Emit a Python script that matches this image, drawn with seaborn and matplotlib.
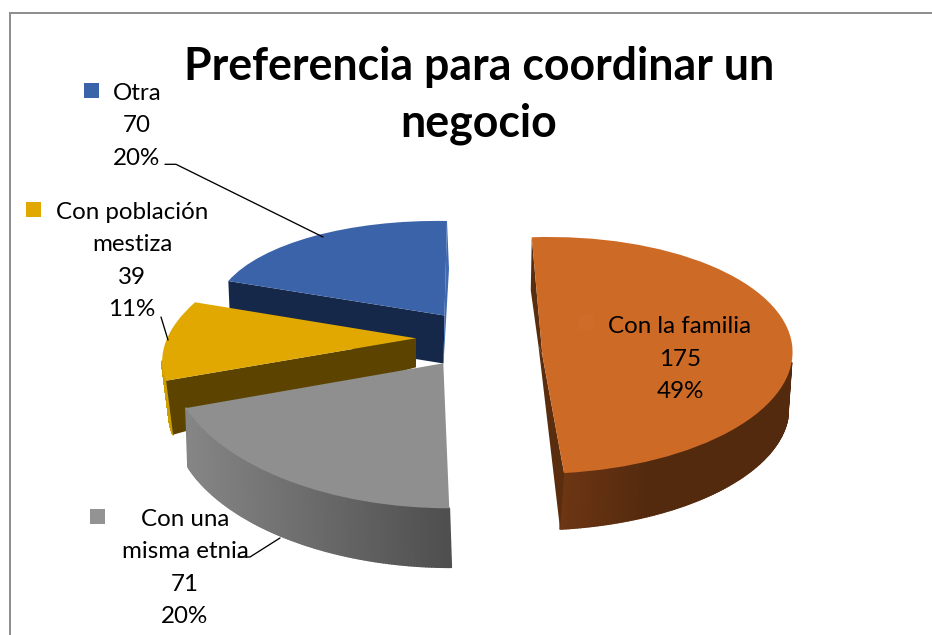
import numpy as np
import matplotlib
matplotlib.use("Agg")
import matplotlib.pyplot as plt
from matplotlib.collections import PolyCollection
from matplotlib.colors import to_rgb
from matplotlib.transforms import Affine2D
import seaborn as sns

# ---- data ----
categories = ["Con la familia", "Con una\nmisma etnia", "Con población\nmestiza", "Otra"]
values = [175, 71, 39, 70]
title = "Preferencia para coordinar un\nnegocio"

# ---- style ----
top_colors = ["#cd6a26", "#8f8f8f", "#e0a800", "#3b63a9"]
marker_colors = ["#d06c2a", "#939393", "#e0a800", "#3b63a9"]
# projection of each exploded slice: a, b, c, d, tx, ty  (x'=ax+by+tx, y'=ty-(cx+dy))
projection = [
    (250.0, 9.0, -1.0, 118.4, 542.4, 355.4),
    (271.2, 27.45, -17.8, 143.9, 443.3, 363.3),
    (245.2, 65.6, -7.25, 115.7, 416.0, 338.3),
    (228.6, 20.5, -11.3, 93.9, 444.5, 315.5),
]
rim_shift = [(-4, 56), (2, 59), (7, 54), (2, 48)]
apex_shift = [(-4, -10), (0, 0), (0, 29), (-1, 48)]
rim_grad = [("#6e3614", "#532a0e", 560, 650), ("#858585", "#4e4e4e", 190, 450),
            ("#cf9f00", "#cf9f00", 0, 1), ("#3b63a9", "#3b63a9", 0, 1)]
# part of the arc whose outer side is visible, in degrees
rim_span = [(-90, -3), (-160, -80), (-165, -150), None]
# side walls: (wedge angle attribute, colour, drop at the rim)
walls = [[("theta2", "#5a2d0e", (-1, 53)), ("theta1", "#5a2d0e", (-4, 56))],
         [],
         [("theta2", "#5c4400", (7, 54))],
         [("theta2", "#16284a", (2, 48)), ("theta1", "#4169b0", (2, 48))]]
z_base = [40, 30, 20, 10]

label_pos = [(680, 359), (185, 568), (132, 261), (137, 126)]
marker_pos = [(579, 315), (90, 509), (26, 202), (84, 83)]
leaders = [([238, 250, 280], [557, 557, 538]),
           ([161, 168], [317, 340]),
           ([165, 176, 323], [164.3, 164.3, 237])]

sns.set_theme(style="white")
plt.rcParams["font.family"] = ["Lato", "DejaVu Sans"]

fig = plt.figure(figsize=(9.32, 6.35), dpi=100, facecolor="white")
ax = fig.add_axes([0, 0, 1, 1])
palette = sns.color_palette(top_colors)

wedges, _ = ax.pie(values, startangle=94.5, counterclock=False, colors=palette,
                   wedgeprops={"linewidth": 0})
ax.set_aspect("auto")
ax.set_xlim(0, 932)
ax.set_ylim(635, 0)
ax.set_axis_off()


def project(m, t):
    a, b, c, d, tx, ty = m
    x, y = np.cos(np.radians(t)), np.sin(np.radians(t))
    return np.column_stack([a * x + b * y + tx, ty - (c * x + d * y)])


for i, w in enumerate(wedges):
    m = projection[i]
    a, b, c, d, tx, ty = m
    w.set_transform(Affine2D.from_values(a, -c, b, -d, tx, ty) + ax.transData)
    w.set_zorder(z_base[i] + 2)

    # curved outer side, built strip by strip from the wedge's angles
    if rim_span[i] is not None:
        lo = max(w.theta1, rim_span[i][0])
        hi = min(w.theta2, rim_span[i][1])
        angles = np.linspace(lo, hi, 121)
        top = project(m, angles)
        bottom = top + np.array(rim_shift[i])
        c0, c1, x0, x1 = rim_grad[i]
        polys, cols = [], []
        for k in range(len(angles) - 1):
            polys.append([top[k], top[k + 1], bottom[k + 1], bottom[k]])
            f = np.clip((top[k, 0] - x0) / (x1 - x0), 0, 1)
            cols.append(tuple((1 - f) * np.array(to_rgb(c0)) + f * np.array(to_rgb(c1))))
        ax.add_collection(PolyCollection(polys, facecolors=cols, edgecolors=cols,
                                         linewidths=1.2, zorder=z_base[i]))

    # flat cut faces
    apex = np.array([tx, ty])
    for which, col, drop in walls[i]:
        e = project(m, np.array([getattr(w, which)]))[0]
        ax.fill(*zip(apex, e, e + np.array(drop), apex + np.array(apex_shift[i])),
                color=col, lw=0, zorder=z_base[i] + 1)

# frame of the chart area
ax.plot([9.5, 9.5, 932], [635, 12.7, 12.7], color="#8c8c8c", lw=1.4, zorder=1,
        solid_joinstyle="miter")

# leader lines
for lx, ly in leaders:
    ax.plot(lx, ly, color="black", lw=0.95, zorder=45)

# data labels with their colour keys
total = sum(values)
for i, (cat, val) in enumerate(zip(categories, values)):
    ax.text(*label_pos[i], f"{cat}\n{val}\n{round(100 * val / total)}%", ha="center",
            va="center", ma="center", fontsize=17.4, color="black", linespacing=1.68, zorder=50)
    mx, my = marker_pos[i]
    ax.fill([mx, mx + 15, mx + 15, mx], [my, my, my + 15, my + 15],
            color=marker_colors[i], lw=0, zorder=48)

ax.text(479, 95.5, title, ha="center", va="center", ma="center", fontsize=32.1,
        fontweight="bold", color="black", linespacing=1.4, zorder=50)

fig.savefig("out.png", dpi=100, facecolor="white")
